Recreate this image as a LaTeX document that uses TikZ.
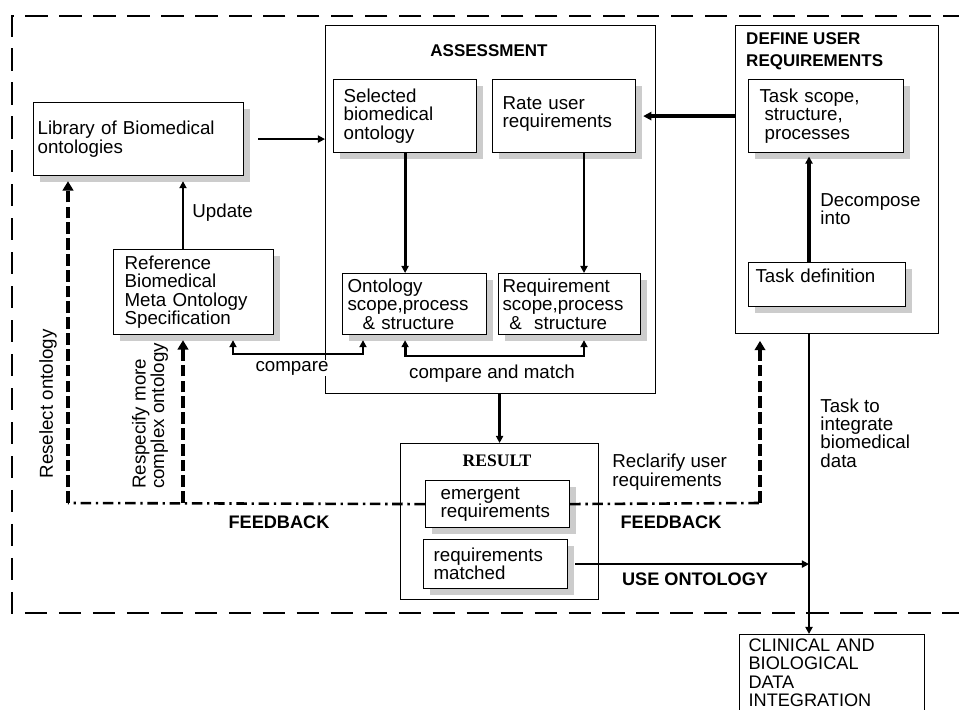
\documentclass[tikz,border=0pt]{standalone}
\usepackage{fontspec}
\setmainfont{Liberation Sans}
\newfontfamily\resultfont{Liberation Serif}
\usetikzlibrary{arrows.meta,shadows}

\tikzset{
  box/.style={draw, line width=1pt, fill=white, anchor=north west, align=left, inner ysep=0pt},
  sbox/.style={box, drop shadow={shadow xshift=0.2cm, shadow yshift=-0.2cm, fill=gray!40, opacity=1}},
  frame/.style={draw, line width=1pt, fill=white, anchor=north west, inner sep=0pt},
  title/.style={font=\fontsize{14.5}{18.7}\selectfont\bfseries, inner sep=0pt},
  bigtitle/.style={font=\fontsize{15.5}{18}\selectfont\bfseries, inner sep=0pt},
  arr/.style={line width=2.4pt, -{Triangle[length=6pt,width=6pt]}},
  biarr/.style={line width=2.4pt, {Triangle[length=6pt,width=6pt]}-{Triangle[length=6pt,width=6pt]}},
  fbup/.style={line width=3.6pt, dash pattern=on 10pt off 3.5pt, -{Triangle[length=8pt,width=9pt]}},
  fbline/.style={line width=2.2pt, dash pattern=on 9pt off 4pt on 2pt off 4pt},
  lbl/.style={inner sep=1pt, align=left}
}

\begin{document}
\begin{tikzpicture}[x=0.03cm, y=-0.03cm, font=\fontsize{16}{15.7}\selectfont]
\useasboundingbox (0,0) rectangle (959,710);

% outer frame
\draw[line width=1pt, dash pattern=on 19pt off 10pt] (965,16) -- (12,16) -- (12,613) -- (965,613);

% containers
\node[frame, minimum width=9.9cm, minimum height=11.04cm] (assess) at (325,25) {};
\node[frame, minimum width=5.94cm, minimum height=4.68cm] (result) at (400,443) {};
\node[frame, minimum width=6.09cm, minimum height=9.24cm] (define) at (735,25) {};
\node[title] (assesst) at (489,51) {ASSESSMENT};
\node[title, font=\resultfont\fontsize{15}{18}\selectfont\bfseries] (resultt) at (497,461) {RESULT};
\node[title, anchor=west, align=left] (definet) at (746,51) {DEFINE USER\\REQUIREMENTS};

% boxes
\node[sbox, inner xsep=0.12cm, text width=6.06cm, minimum height=2.19cm] (lib) at (33,102) {Library of Biomedical\\ontologies};
\node[sbox, inner xsep=0.33cm, text width=4.14cm, minimum height=2.55cm] (ref) at (113,249) {Reference\\Biomedical\\Meta Ontology\\Specification};
\node[sbox, inner xsep=0.3cm, text width=3.69cm, minimum height=2.19cm] (sel) at (333,79) {Selected\\biomedical\\ontology};
\node[sbox, inner xsep=0.3cm, text width=3.69cm, minimum height=2.19cm] (rate) at (492,79) {Rate user\\requirements\\[-9pt]\mbox{}};
\node[sbox, inner xsep=0.15cm, text width=4.02cm, minimum height=1.83cm] (onto) at (342,273) {Ontology\\scope,process\\\hspace*{0.45cm}\& structure};
\node[sbox, inner xsep=0.12cm, text width=4.02cm, minimum height=1.83cm] (req) at (498,273) {Requirement\\scope,process\\\hspace*{0.2cm}\&\ \ structure};
\node[sbox, inner xsep=0.33cm, text width=3.99cm, minimum height=2.19cm] (tscope) at (748,79) {Task scope,\\\hspace*{0.15cm}structure,\\\hspace*{0.15cm}processes};
\node[sbox, inner xsep=0.21cm, text width=4.29cm, minimum height=1.32cm] (tdef) at (748,262) {Task definition\\\mbox{}};
\node[sbox, inner xsep=0.45cm, text width=3.42cm, minimum height=1.41cm] (emerg) at (425,480) {emergent\\requirements};
\node[sbox, inner xsep=0.3cm, text width=3.72cm, minimum height=1.47cm] (matched) at (423,539) {requirements\\matched};
\node[box, inner xsep=0.27cm, inner ysep=0.12cm, text width=5.01cm, font=\fontsize{15.5}{15.7}\selectfont] (clin) at (739,634) {CLINICAL AND\\BIOLOGICAL\\DATA\\INTEGRATION};

% bends
\coordinate (fbl) at (68,503);
\coordinate (fbm) at (183,503);
\coordinate (fbr) at (760,503);
\coordinate (cmpy) at (0,354);
\coordinate (cmpmy) at (0,356);
\coordinate (refx) at (233,0);
\coordinate (ontx) at (363,0);
\coordinate (reqx) at (584,0);
\coordinate (decx) at (809,0);

% assessment side
\draw[arr] ([xshift=0.42cm]lib.east) -- (lib.east -| assess.west);
\draw[arr] (fbm |- ref.north) -- ([yshift=-0.15cm]fbm |- lib.south);
\node[lbl, anchor=west] (upd) at (191,213) {Update};
\draw[arr] (sel.south) -- (sel.south |- onto.north);
\draw[arr] (reqx |- rate.south) -- (reqx |- req.north);
\draw[biarr] ([yshift=-0.15cm]sel.south |- onto.south) |- (reqx |- cmpmy) -- ([yshift=-0.15cm]reqx |- req.south);
\draw[biarr] ([yshift=-0.15cm]refx |- ref.south) |- (ontx |- cmpy) -- ([yshift=-0.15cm]ontx |- onto.south);
\node[lbl, fill=white] (cmp) at (292,368) {compare};
\node[lbl] (cmpm) at (492,374) {compare and match};
\draw[arr] (result.north |- assess.south) -- (result.north);

% feedback
\draw[fbline] (emerg.west) -- (fbl);
\draw[fbup] (fbl) -- ([yshift=-0.15cm]fbl |- lib.south);
\draw[fbup] (fbm) -- ([yshift=-0.15cm]fbm |- ref.south);
\draw[fbline] (emerg.east) -- (fbr);
\draw[fbup] (fbr) -- ([yshift=-0.2cm]fbr |- define.south);
\node[lbl, rotate=90] (resel) at (48,404) {Reselect ontology};
\node[lbl, rotate=90] (respec) at (150,416) {Respecify more\\complex ontology};
\node[bigtitle] (fbleft) at (279,522) {FEEDBACK};
\node[bigtitle] (fbright) at (671,522) {FEEDBACK};
\node[lbl, anchor=west] (recl) at (611,472) {Reclarify user\\requirements};

% user requirements side
\draw[line width=2.8pt, -{Triangle[length=7pt,width=7pt]}] (define.west |- rate.east) -- ([xshift=0.21cm]rate.east);
\draw[arr, line width=2.8pt] (decx |- tdef.north) -- ([yshift=-0.1cm]decx |- tscope.south);
\node[lbl, anchor=west] (decomp) at (819,209) {Decompose\\into};
\draw[arr] (decx |- define.south) -- (decx |- clin.north);
\node[lbl, anchor=west] (task) at (819,433) {Task to\\integrate\\biomedical\\data};
\draw[arr] ([xshift=0.21cm]matched.east) -- (decx |- matched.east);
\node[bigtitle] (use) at (695,579) {USE ONTOLOGY};
\end{tikzpicture}
\end{document}
